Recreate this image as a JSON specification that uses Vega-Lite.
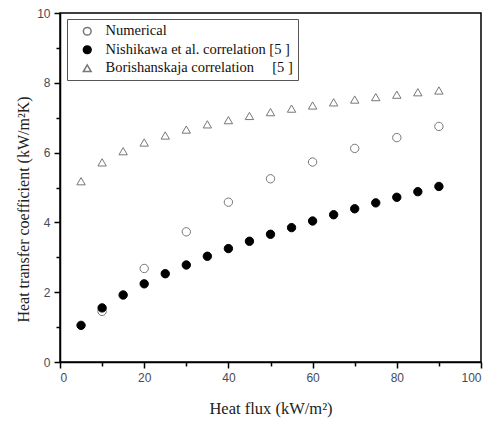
{
  "$schema": "https://vega.github.io/schema/vega-lite/v6.json",
  "autosize": "none",
  "width": 421,
  "height": 349,
  "padding": {"left": 60, "top": 13, "right": 10, "bottom": 65},
  "background": "white",
  "view": {"stroke": "black", "strokeWidth": 1.5},
  "data": {"values": [
    {"s": "Numerical", "q": 10, "h": 1.45},
    {"s": "Numerical", "q": 20, "h": 2.68},
    {"s": "Numerical", "q": 30, "h": 3.73},
    {"s": "Numerical", "q": 40, "h": 4.58},
    {"s": "Numerical", "q": 50, "h": 5.25},
    {"s": "Numerical", "q": 60, "h": 5.73},
    {"s": "Numerical", "q": 70, "h": 6.12},
    {"s": "Numerical", "q": 80, "h": 6.43},
    {"s": "Numerical", "q": 90, "h": 6.75},
    {"s": "Nishikawa", "q": 5, "h": 1.05},
    {"s": "Nishikawa", "q": 10, "h": 1.55},
    {"s": "Nishikawa", "q": 15, "h": 1.92},
    {"s": "Nishikawa", "q": 20, "h": 2.24},
    {"s": "Nishikawa", "q": 25, "h": 2.53},
    {"s": "Nishikawa", "q": 30, "h": 2.78},
    {"s": "Nishikawa", "q": 35, "h": 3.03},
    {"s": "Nishikawa", "q": 40, "h": 3.25},
    {"s": "Nishikawa", "q": 45, "h": 3.46},
    {"s": "Nishikawa", "q": 50, "h": 3.66},
    {"s": "Nishikawa", "q": 55, "h": 3.85},
    {"s": "Nishikawa", "q": 60, "h": 4.04},
    {"s": "Nishikawa", "q": 65, "h": 4.22},
    {"s": "Nishikawa", "q": 70, "h": 4.39},
    {"s": "Nishikawa", "q": 75, "h": 4.56},
    {"s": "Nishikawa", "q": 80, "h": 4.72},
    {"s": "Nishikawa", "q": 85, "h": 4.88},
    {"s": "Nishikawa", "q": 90, "h": 5.03},
    {"s": "Borishanskaja", "q": 5, "h": 5.18},
    {"s": "Borishanskaja", "q": 10, "h": 5.72},
    {"s": "Borishanskaja", "q": 15, "h": 6.04},
    {"s": "Borishanskaja", "q": 20, "h": 6.29},
    {"s": "Borishanskaja", "q": 25, "h": 6.49},
    {"s": "Borishanskaja", "q": 30, "h": 6.66},
    {"s": "Borishanskaja", "q": 35, "h": 6.81},
    {"s": "Borishanskaja", "q": 40, "h": 6.93},
    {"s": "Borishanskaja", "q": 45, "h": 7.05},
    {"s": "Borishanskaja", "q": 50, "h": 7.16},
    {"s": "Borishanskaja", "q": 55, "h": 7.26},
    {"s": "Borishanskaja", "q": 60, "h": 7.35},
    {"s": "Borishanskaja", "q": 65, "h": 7.44},
    {"s": "Borishanskaja", "q": 70, "h": 7.52},
    {"s": "Borishanskaja", "q": 75, "h": 7.59},
    {"s": "Borishanskaja", "q": 80, "h": 7.66},
    {"s": "Borishanskaja", "q": 85, "h": 7.73},
    {"s": "Borishanskaja", "q": 90, "h": 7.78}
  ]},
  "mark": {"type": "point", "size": 70, "strokeWidth": 1, "opacity": 1},
  "encoding": {
    "x": {
      "field": "q", "type": "quantitative",
      "scale": {"domain": [0, 100], "nice": false},
      "axis": {
        "title": "Heat flux (kW/m²)",
        "values": [0, 10, 20, 30, 40, 50, 60, 70, 80, 90, 100],
        "labelExpr": "datum.value % 20 == 0 ? datum.label : ''",
        "grid": false,
        "domainColor": "black", "domainWidth": 1.5,
        "tickColor": "black", "tickWidth": 1.5,
        "tickSize": {"condition": {"test": "datum.value % 20 == 0", "value": 6}, "value": 4},
        "labelFont": "Liberation Sans", "labelFontSize": 12, "labelColor": "#4a4a55", "labelPadding": 4,
        "labelOverlap": false,
        "titleFont": "Liberation Serif", "titleFontSize": 16.5, "titleFontWeight": "normal", "titleColor": "#222", "titlePadding": 17
      }
    },
    "y": {
      "field": "h", "type": "quantitative",
      "scale": {"domain": [0, 10], "nice": false},
      "axis": {
        "title": "Heat transfer coefficient (kW/m²K)",
        "values": [0, 1, 2, 3, 4, 5, 6, 7, 8, 9, 10],
        "labelExpr": "datum.value % 2 == 0 ? datum.label : ''",
        "grid": false,
        "domainColor": "black", "domainWidth": 1.5,
        "tickColor": "black", "tickWidth": 1.5,
        "tickSize": {"condition": {"test": "datum.value % 2 == 0", "value": 6}, "value": 4},
        "labelFont": "Liberation Sans", "labelFontSize": 12, "labelColor": "#4a4a55", "labelPadding": 4,
        "labelOverlap": false,
        "titleY": 196,
        "titleFont": "Liberation Serif", "titleFontSize": 16, "titleFontWeight": "normal", "titleColor": "#222", "titlePadding": 5
      }
    },
    "shape": {
      "field": "s", "type": "nominal",
      "scale": {"domain": ["Numerical", "Nishikawa", "Borishanskaja"], "range": ["circle", "circle", "triangle-up"]},
      "legend": {
        "title": null,
        "orient": "none", "legendX": 7, "legendY": 6,
        "strokeColor": "#555", "padding": 5,
        "labelFont": "Liberation Serif", "labelFontSize": 14.5, "labelColor": "#111", "labelLimit": 300,
        "symbolSize": 60, "rowPadding": 2.5, "labelOffset": 11, "symbolOffset": 8,
        "labelExpr": "datum.value == 'Numerical' ? 'Numerical' : datum.value == 'Nishikawa' ? 'Nishikawa et al. correlation [5 ]' : 'Borishanskaja correlation\u00a0\u00a0\u00a0\u00a0\u00a0[5 ]'"
      }
    },
    "fill": {
      "field": "s", "type": "nominal",
      "scale": {"domain": ["Numerical", "Nishikawa", "Borishanskaja"], "range": ["transparent", "black", "transparent"]},
      "legend": null
    },
    "stroke": {
      "field": "s", "type": "nominal",
      "scale": {"domain": ["Numerical", "Nishikawa", "Borishanskaja"], "range": ["#777777", "black", "#777777"]},
      "legend": null
    }
  }
}
